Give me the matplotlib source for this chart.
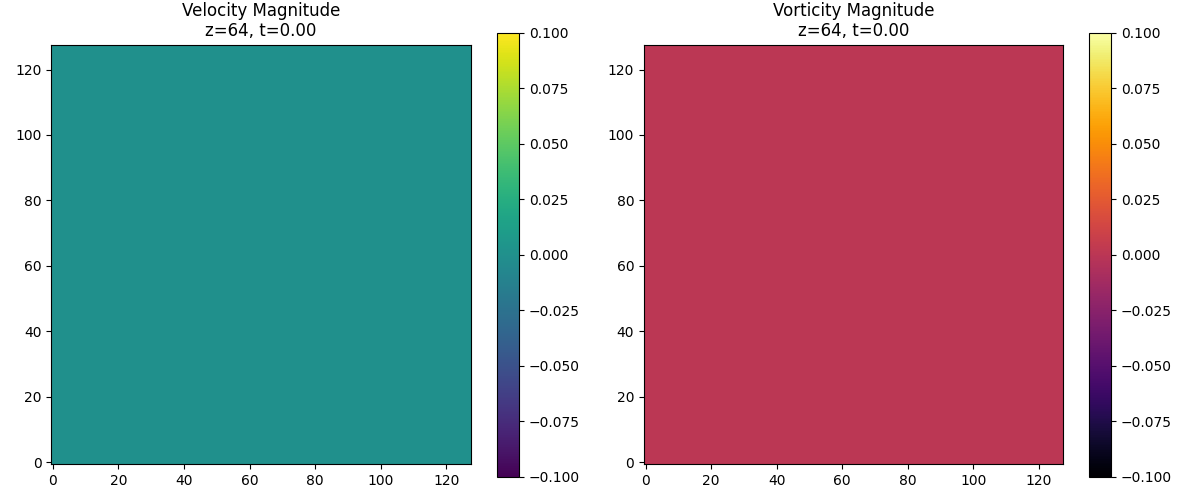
import numpy as np
import matplotlib
matplotlib.use("Agg")
import matplotlib.pyplot as plt

grid_size = 128
slice_z = 64
time_value = 0.0
titles = ["Velocity Magnitude", "Vorticity Magnitude"]
cmaps = ["viridis", "inferno"]
velocity = np.zeros((grid_size, grid_size))
vorticity = np.zeros((grid_size, grid_size))
fields = [velocity, vorticity]

fig, axes = plt.subplots(1, 2, figsize=(12, 5))
W, H = 1200.0, 500.0
ax_boxes = [(51.2, 45.0, 419.9, 418.9), (644.0, 45.0, 419.2, 418.9)]
cb_boxes = [(497.2, 32.6, 21.9, 443.9), (1089.2, 32.6, 21.9, 443.9)]
for ax, field, title, cmap, abox, cbox in zip(axes, fields, titles, cmaps, ax_boxes, cb_boxes):
    im = ax.imshow(field, origin="lower", cmap=cmap, aspect="auto")
    ax.set_title(f"{title}\nz={slice_z}, t={time_value:.2f}", pad=6.2)
    x, y, w, h = abox
    ax.set_position([x / W, 1 - (y + h) / H, w / W, h / H])
    x, y, w, h = cbox
    cax = fig.add_axes([x / W, 1 - (y + h) / H, w / W, h / H])
    fig.colorbar(im, cax=cax)
fig.savefig("out.png", dpi=100)
